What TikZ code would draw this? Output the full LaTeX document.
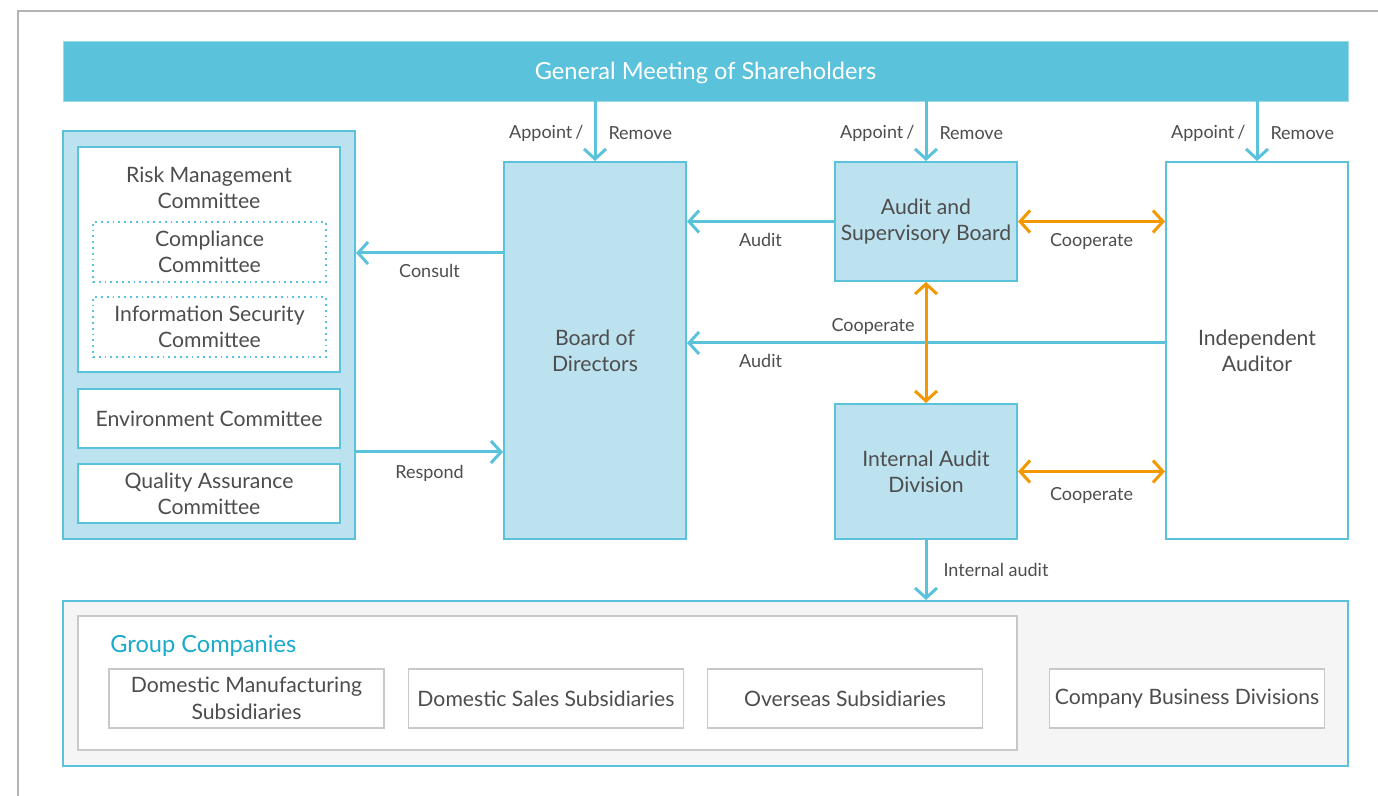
\documentclass[tikz,border=0pt]{standalone}
\usepackage{fontspec}
\setmainfont{Lato}
\usetikzlibrary{arrows.meta}
\definecolor{gmblue}{RGB}{91,194,219}
\definecolor{paleblue}{RGB}{189,226,239}
\definecolor{coorange}{RGB}{243,152,0}
\definecolor{txtgray}{RGB}{77,77,77}
\definecolor{boxgray}{RGB}{200,200,200}
\definecolor{bggray}{RGB}{245,245,245}
\definecolor{titleblue}{RGB}{26,170,204}
\definecolor{framegray}{RGB}{180,180,180}
\tikzset{>={Straight Barb[length=5pt,width=11pt]}}
\tikzset{
  boxtext/.style={text=txtgray, align=center, inner sep=0pt, font=\fontsize{10.6}{13.2}\selectfont},
  bluebox/.style={boxtext, draw=gmblue, line width=1pt, fill=paleblue},
  whitebox/.style={boxtext, draw=gmblue, line width=0.8pt, fill=white},
  dotbox/.style={boxtext, draw=gmblue, line width=0.9pt, dotted},
  graybox/.style={boxtext, draw=boxgray, line width=0.9pt, fill=white},
  lbl/.style={text=txtgray, font=\fontsize{9}{11}\selectfont, inner sep=2pt},
  bluearr/.style={->, draw=gmblue, line width=1.5pt},
  orangearr/.style={<->, draw=coorange, line width=1.5pt}
}

\begin{document}
\begin{tikzpicture}[x=0.5pt, y=-0.5pt]
    \useasboundingbox (0,0) rectangle (1378,796);
    % Frame round the page.
    \draw[framegray, line width=0.8pt] (18,796) -- (18,11) -- (1378,11);

    % General meeting bar.
    \node[fill=gmblue, draw=gmblue!60, line width=0.4pt, minimum width=642.5pt, minimum height=30pt, inner sep=0pt,
          text height=9pt, text depth=0pt, text=white, font=\fontsize{11.8}{14}\selectfont] (gm) at (705.5,71) {General Meeting of Shareholders};

    % Committees on the left.
    \node[bluebox, minimum width=146pt, minimum height=204pt] (cmt) at (209,335) {};
    \node[whitebox, minimum width=131pt, minimum height=112.5pt] (risk) at (209,259.5) {};
    \node[boxtext] (riskt) at (209,188) {Risk Management\\Committee};
    \node[dotbox, minimum width=116.5pt, minimum height=30pt] (comp) at (209.5,252) {Compliance\\Committee};
    \node[dotbox, minimum width=116.5pt, minimum height=30pt] (info) at (209.5,327) {Information Security\\Committee};
    \node[whitebox, minimum width=131pt, minimum height=29.5pt] (env) at (209,418.5) {Environment Committee};
    \node[whitebox, minimum width=131pt, minimum height=29.5pt] (qa) at (209,493.5) {Quality Assurance\\Committee};

    % Boards and auditors.
    \node[bluebox, minimum width=91pt, minimum height=188.5pt] (bod) at (595,350.5) {Board of\\Directors};
    \node[bluebox, minimum width=91pt, minimum height=59.5pt] (asb) at (926,221.5) {Audit and\\Supervisory Board};
    \node[bluebox, minimum width=91pt, minimum height=67.5pt] (iad) at (926,471.5) {Internal Audit\\Division};
    \node[whitebox, line width=1pt, minimum width=91pt, minimum height=188.5pt] (ia) at (1257,350.5) {Independent\\Auditor};

    % Group companies at the bottom.
    \node[draw=gmblue, line width=1pt, fill=bggray, minimum width=642.5pt, minimum height=82.5pt, inner sep=0pt] (grp) at (705.5,683.5) {};
    \node[graybox, minimum width=469.5pt, minimum height=67pt] (gc) at (547.5,683) {};
    \node[anchor=west, inner sep=0pt, text=titleblue, font=\fontsize{11.8}{14}\selectfont] (gct) at (110,646) {Group Companies};
    \node[graybox, minimum width=137.5pt, minimum height=29.5pt] (dms) at (246.5,698.5) {Domestic Manufacturing\\Subsidiaries};
    \node[graybox, minimum width=137.5pt, minimum height=29.5pt] (dss) at (546,698.5) {Domestic Sales Subsidiaries};
    \node[graybox, minimum width=137.5pt, minimum height=29.5pt] (os) at (845,698.5) {Overseas Subsidiaries};
    \node[graybox, minimum width=137.5pt, minimum height=29.5pt] (cbd) at (1187,698.5) {Company Business Divisions};

    % Appoint / remove.
    \foreach \n in {bod, asb, ia}
        \draw[bluearr] (gm.south -| \n.north) -- (\n.north)
            node[midway, lbl, left=3pt, yshift=-1pt] {Appoint\,/} node[midway, lbl, right=4pt, yshift=-1pt] {Remove};

    % Blue connectors.
    \coordinate (consult) at (0,253);
    \coordinate (respond) at (0,452);
    \coordinate (iaaudit) at (0,343);
    \draw[bluearr] (bod.west |- consult) -- (cmt.east |- consult) node[midway, lbl, below=3pt] {Consult};
    \draw[bluearr] (cmt.east |- respond) -- (bod.west |- respond) node[midway, lbl, below=4pt] {Respond};
    \draw[bluearr] (asb.west) -- (bod.east |- asb.west) node[midway, lbl, below=3pt] {Audit};
    \draw[bluearr] (ia.west |- iaaudit) -- (bod.east |- iaaudit) node[pos=0.846, lbl, below=3pt] {Audit};
    \draw[bluearr] (iad.south) -- (iad.south |- grp.north) node[midway, lbl, right=6pt] {Internal audit};

    % Orange cooperation arrows.
    \draw[orangearr] (asb.east) -- (ia.west |- asb.east) node[midway, lbl, below=3pt] {Cooperate};
    \draw[orangearr] (iad.east) -- (ia.west |- iad.east) node[midway, lbl, below=5pt] {Cooperate};
    \draw[orangearr] (asb.south) -- (iad.north) node[pos=0.37, lbl, left=3pt] {Cooperate};
\end{tikzpicture}
\end{document}
